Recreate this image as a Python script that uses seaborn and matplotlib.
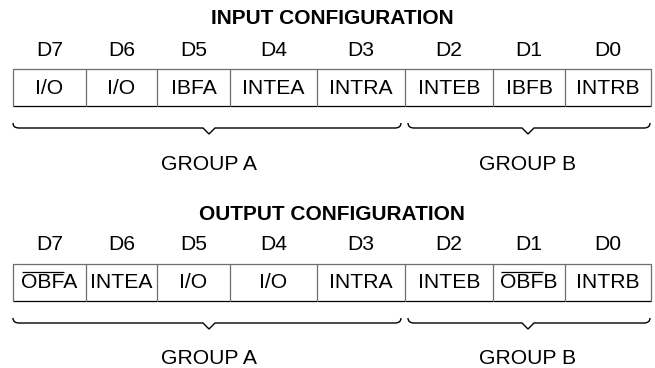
#!/usr/bin/env python3

import matplotlib
matplotlib.use('Agg')
import seaborn as sns
from matplotlib import pyplot as plt
from matplotlib.path import Path
from matplotlib.patches import PathPatch

# diagram content (a '~' prefix marks an active-low name: overbar on all but the last letter)
bits = ['D7', 'D6', 'D5', 'D4', 'D3', 'D2', 'D1', 'D0']
input_fields = ['I/O', 'I/O', 'IBFA', 'INTEA', 'INTRA', 'INTEB', 'IBFB', 'INTRB']
output_fields = ['~OBFA', 'INTEA', 'I/O', 'I/O', 'INTRA', 'INTEB', '~OBFB', 'INTRB']
titles = ['INPUT CONFIGURATION', 'OUTPUT CONFIGURATION']
group_names = ['GROUP A', 'GROUP B']
group_sizes = [5, 3]

# layout in pixels
col_edges = [13, 86, 157, 230, 317, 405, 493, 565, 651]
section_offset = [0, 195]
FS = 15.2
TITLE_FS = 15.0


def brace(ax, x0, x1, xm, y, hook=5, half=6, depth=6):
    verts = [(x0, y - hook), (x0, y), (x0 + 6, y),
             (xm - half, y), (xm, y + depth), (xm + half, y),
             (x1 - 6, y), (x1, y), (x1, y - hook)]
    codes = [Path.MOVETO, Path.CURVE3, Path.CURVE3,
             Path.LINETO, Path.LINETO, Path.LINETO,
             Path.LINETO, Path.CURVE3, Path.CURVE3]
    ax.add_patch(PathPatch(Path(verts, codes), fill=False,
                           edgecolor='black', linewidth=1.0))


def field_text(ax, renderer, xc, yc, label):
    if not label.startswith('~'):
        ax.text(xc, yc, label, ha='center', va='center', fontsize=FS, color='black')
        return
    label = label[1:]
    t = ax.text(xc, yc, label, ha='center', va='center', fontsize=FS, color='black')
    bb = t.get_window_extent(renderer)
    tmp = ax.text(0, 0, label[:-1], fontsize=FS)
    w = tmp.get_window_extent(renderer).width
    tmp.remove()
    cap_h = 0.716 * FS * 100 / 72
    y_bar = yc - cap_h / 2 - 3.5
    ax.plot([bb.x0 + 0.5, bb.x0 + w - 1], [y_bar, y_bar], color='black', lw=0.9,
            solid_capstyle='butt')


def draw_section(ax, renderer, title, fields, dy):
    ax.text((col_edges[0] + col_edges[-1]) / 2, 19 + dy, title, ha='center', va='center',
            fontsize=TITLE_FS, fontweight='bold', color='black')

    top, bottom = 69 + dy, 106 + dy
    for i, (bit, field) in enumerate(zip(bits, fields)):
        xc = (col_edges[i] + col_edges[i + 1]) / 2
        ax.text(xc, 50 + dy, bit, ha='center', va='center', fontsize=FS, color='black')
        field_text(ax, renderer, xc, 88 + dy, field)

    grey = '#6e6e6e'
    ax.plot([col_edges[0], col_edges[-1]], [top, top], color=grey, lw=0.9)
    ax.plot([col_edges[0], col_edges[-1]], [bottom, bottom], color='black', lw=0.9)
    for x in col_edges:
        ax.plot([x, x], [top, bottom], color=grey, lw=0.9)

    start = 0
    for name, size in zip(group_names, group_sizes):
        x0 = col_edges[start]
        x1 = col_edges[start + size]
        xm = (x0 + x1) / 2
        left = x0 if start == 0 else x0 + 3
        right = x1 - 4 if start + size < len(bits) else x1 - 1
        brace(ax, left, right, xm, 128 + dy)
        ax.text(xm, 164 + dy, name, ha='center', va='center', fontsize=FS, color='black')
        start += size


sns.set_theme(style='white')
plt.rcParams['font.family'] = ['Liberation Sans', 'DejaVu Sans']

fig = plt.figure(figsize=(6.55, 3.68), dpi=100)
ax = fig.add_axes([0, 0, 1, 1])
ax.set_xlim(0, 655)
ax.set_ylim(368, 0)
ax.axis('off')
fig.canvas.draw()
renderer = fig.canvas.get_renderer()

for title, fields, dy in zip(titles, [input_fields, output_fields], section_offset):
    draw_section(ax, renderer, title, fields, dy)

fig.savefig('out.png', dpi=100)
